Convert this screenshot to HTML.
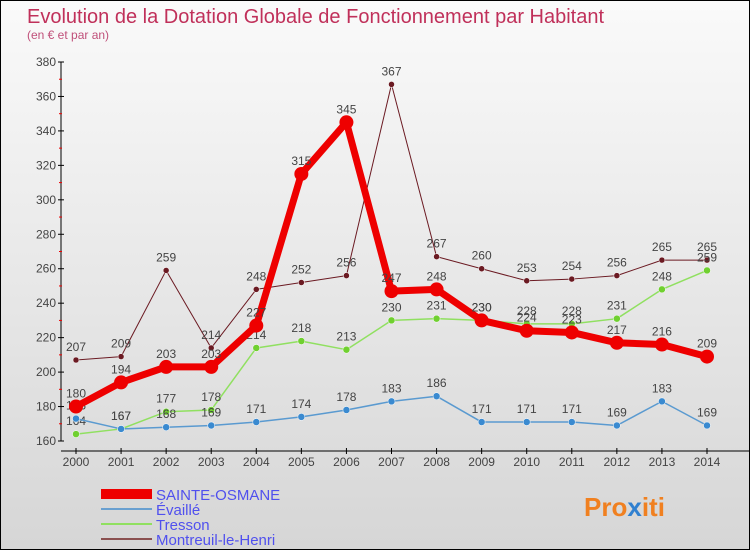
<!DOCTYPE html>
<html><head><meta charset="utf-8"><style>
body{margin:0;}
#c{width:748px;height:548px;border:1px solid #000;background:linear-gradient(#fafafa,#d6d6d6);position:relative;overflow:hidden;font-family:"Liberation Sans",sans-serif;}
</style></head><body>
<div id="c">
<svg id="s" width="748" height="548" xmlns="http://www.w3.org/2000/svg" style="position:absolute;left:0;top:0">
<text x="26" y="22" font-size="20" fill="#c0305a">Evolution de la Dotation Globale de Fonctionnement par Habitant</text>
<text x="26" y="38" font-size="12" fill="#c0507a">(en € et par an)</text>
<g id="axes"></g><g id="series"></g><g id="legend"></g>
<text x="583" y="515" font-size="26" font-weight="bold" fill="#f08020">Pro<tspan fill="#3080d0">x</tspan>iti</text>
</svg>
</div>
<script>
const years=[2000,2001,2002,2003,2004,2005,2006,2007,2008,2009,2010,2011,2012,2013,2014];
const yTicks=[160,180,200,220,240,260,280,300,320,340,360,380];
const sainte=[180,194,203,203,227,315,345,247,248,230,224,223,217,216,209];
const evaille=[173,167,168,169,171,174,178,183,186,171,171,171,169,183,169];
const tresson=[164,167,177,178,214,218,213,230,231,230,228,228,231,248,259];
const montreuil=[207,209,259,214,248,252,256,367,267,260,253,254,256,265,265];
const NS="http://www.w3.org/2000/svg";
const X=i=>75+(706-75)*i/(years.length-1);
const Y=v=>440-(v-160)*(440-61)/220;
function mk(t,a,p){const e=document.createElementNS(NS,t);for(const k in a)e.setAttribute(k,a[k]);p.appendChild(e);return e;}
const ax=document.getElementById('axes');
const yl=mk('line',{x1:60,y1:61,x2:60,y2:440,stroke:'#000'},ax);


yTicks.forEach((v,i)=>{
 mk('line',{x1:57,y1:Y(v),x2:63,y2:Y(v),stroke:'#000'},ax);
 if(i<yTicks.length-1) mk('line',{x1:58,y1:Y(v+10),x2:61,y2:Y(v+10),stroke:'#e00'},ax);
 const t=mk('text',{x:55,y:Y(v)+4,'font-size':12,fill:'#444','text-anchor':'end'},ax);t.textContent=v;
 
 
});
const xl=mk('line',{x1:60,y1:450,x2:748,y2:450,stroke:'#000'},ax);


years.forEach((y,i)=>{
 mk('line',{x1:X(i),y1:447,x2:X(i),y2:453,stroke:'#000'},ax);
 const t=mk('text',{x:X(i),y:465,'font-size':12,fill:'#444','text-anchor':'middle'},ax);t.textContent=y;
 
 
});
const sg=document.getElementById('series');
const defs=[
 [montreuil,'#6b1a22','#6b1a22',1,3,'montreuil'],
 [tresson,'#90e060','#70d030',1.5,3.5,'tresson'],
 [evaille,'#5a9ad0','#3a8ad0',1.5,3.5,'evaille'],
 [sainte,'#ee0000','#ee0000',7,7,'sainte-osmane']
];
defs.forEach(([d,lc,pc,w,r,n])=>{
 const g=mk('g',{},sg);
 
 
 mk('polyline',{points:d.map((v,i)=>X(i)+','+Y(v)).join(' '),fill:'none',stroke:lc,'stroke-width':w,'stroke-linejoin':'round'},g);
 d.forEach((v,i)=>{
  const c=mk('circle',{cx:X(i),cy:Y(v),r:r,fill:pc,stroke:n=='sainte-osmane'?'none':'#fff','stroke-width':0.5},g);
  
  
  const t=mk('text',{x:X(i),y:Y(v)-9,'font-size':12,fill:'#444','text-anchor':'middle'},g);t.textContent=v;
  
  
 });
});
const lg=document.getElementById('legend');
const L=[['SAINTE-OSMANE','#ee0000',10],['Évaillé','#6aa0d0',2],['Tresson','#90e060',2],['Montreuil-le-Henri','#8a5050',2]];
L.forEach(([n,c,w],i)=>{
 const y=493+i*15;
 const g=mk('g',{},lg);
 
 
 mk('line',{x1:100,y1:y,x2:151,y2:y,stroke:c,'stroke-width':w},g);
 const t=mk('text',{x:155,y:y+6,'font-size':15,fill:'#5050ee'},g);t.textContent=n;
});
</script>
</body></html>
